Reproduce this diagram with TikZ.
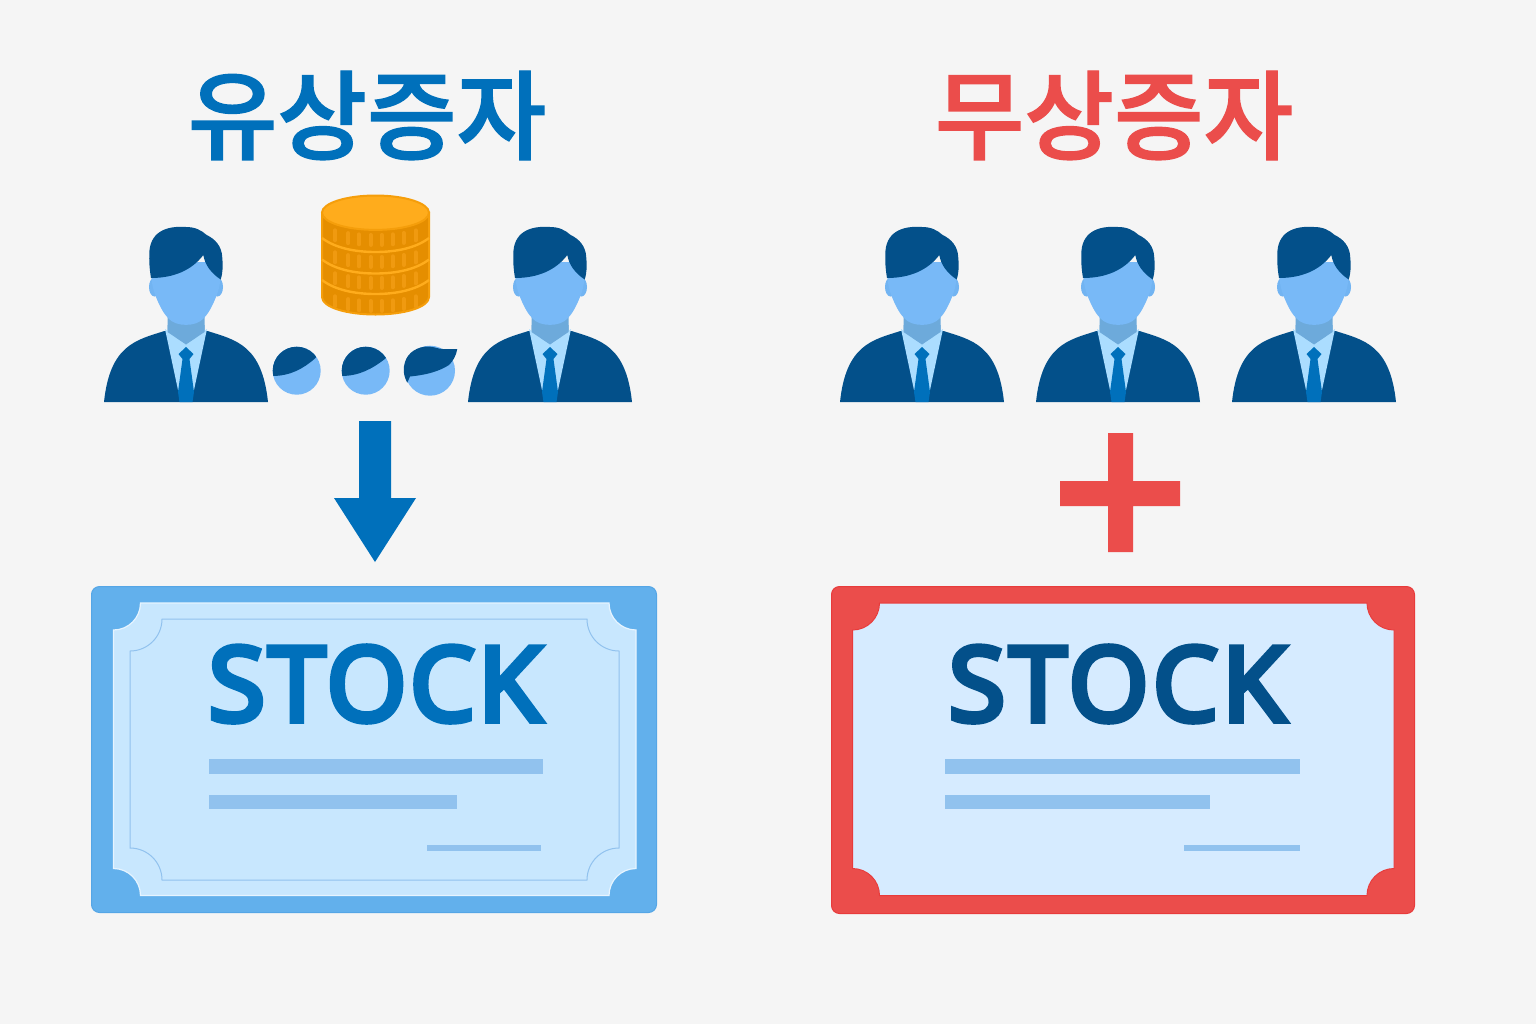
\documentclass[tikz,border=0pt]{standalone}
\usepackage{fontspec}
\newfontfamily\krfont{Noto Sans CJK KR Medium}[FakeBold=1.5]
\newfontfamily\stockfont{Open Sans}[FakeBold=6,LetterSpace=3.4]
\newfontfamily\stockfontR{Open Sans}[FakeBold=6,LetterSpace=4.3]
\definecolor{bg}{HTML}{F5F5F5}
\definecolor{mainblue}{HTML}{0070BB}
\definecolor{navy}{HTML}{03508A}
\definecolor{facec}{HTML}{78B9F7}
\definecolor{earc}{HTML}{72B4F2}
\definecolor{neckc}{HTML}{6DAADB}
\definecolor{shirtc}{HTML}{ABDDFF}
\definecolor{redc}{HTML}{EB4D4B}
\definecolor{redline}{HTML}{E83B3B}
\definecolor{bordblue}{HTML}{62B0EC}
\definecolor{bordline}{HTML}{55A6E6}
\definecolor{paperA}{HTML}{C8E7FE}
\definecolor{paperB}{HTML}{D6EBFF}
\definecolor{barc}{HTML}{91C2EE}
\definecolor{coinside}{HTML}{E58E00}
\definecolor{coinedge}{HTML}{F59E0B}
\definecolor{cointop}{HTML}{FFAC1C}
\definecolor{coinrib}{HTML}{F09A10}
\tikzset{
  titletext/.style={font=\krfont\fontsize{48.7}{49}\selectfont,inner sep=0pt,anchor=center},
  stocktext/.style={font=\stockfont\fontsize{51.3}{55}\selectfont,inner sep=0pt,anchor=center},
  stocktextR/.style={font=\stockfontR\fontsize{51.3}{55}\selectfont,inner sep=0pt,anchor=center},
  barfill/.style={fill=barc,draw=none},
}
% scalloped rectangle path: x1,y1,x2,y2,r
\newcommand{\scallop}[5]{
  ({#1+#5},#2) -- ({#3-#5},#2)
  .. controls ({#3-#5},{#2+0.5523*#5}) and ({#3-0.5523*#5},{#2+#5}) .. (#3,{#2+#5})
  -- (#3,{#4-#5})
  .. controls ({#3-0.5523*#5},{#4-#5}) and ({#3-#5},{#4-0.5523*#5}) .. ({#3-#5},#4)
  -- ({#1+#5},#4)
  .. controls ({#1+#5},{#4-0.5523*#5}) and ({#1+0.5523*#5},{#4-#5}) .. (#1,{#4-#5})
  -- (#1,{#2+#5})
  .. controls ({#1+0.5523*#5},{#2+#5}) and ({#1+#5},{#2+0.5523*#5}) .. ({#1+#5},#2)
  -- cycle
}
\newcommand{\person}[1]{
\begin{scope}[shift={(#1,0)}]
  % ears
  \fill[earc] (-31.5,287) ellipse [x radius=5.5,y radius=9.5];
  \fill[earc] (31.5,287) ellipse [x radius=5.5,y radius=9.5];
  % neck
  \fill[neckc] (-18.5,305) -- (18.5,305) -- (18.5,332) -- (0,345) -- (-18.5,332) -- cycle;
  % body
  \fill[navy] (-21.5,331) .. controls (-50,340) and (-76,345) .. (-82,402) -- (82,402)
     .. controls (76,345) and (50,340) .. (21.5,331) -- cycle;
  % shirt
  \fill[shirtc] (-21,329) -- (0,344) -- (21,329) -- (8,390) -- (-8,390) -- cycle;
  % neck shadow again over the shirt top
  \fill[neckc] (-18.5,325) -- (18.5,325) -- (18.5,332) -- (0,344.5) -- (-18.5,332) -- cycle;
  % tie
  \fill[mainblue] (0,347) -- (7.5,354) -- (3.5,359) -- (8,392) -- (6.5,402) -- (-6.5,402) -- (-8,392) -- (-3.5,359) -- (-7.5,354) -- cycle;
  % face
  \fill[facec] (-34,262) -- (34,262) .. controls (35,275) and (35,285) .. (30,297)
     .. controls (26,307) and (22,314) .. (17.5,318.5)
     .. controls (10,327) and (-10,327) .. (-17.5,318.5)
     .. controls (-22,314) and (-26,307) .. (-30,297)
     .. controls (-35,285) and (-35,275) .. (-34,262) -- cycle;
  % hair
  \fill[navy] (-35,278) .. controls (-12,278) and (6,270) .. (17.3,255)
     .. controls (19,265) and (25,273) .. (34.7,279.5)
     .. controls (37,272) and (37,265) .. (36.3,258)
     .. controls (36,246) and (29,239) .. (20.7,235)
     .. controls (15,230) and (9,227) .. (0,227)
     .. controls (-20,225.5) and (-37,232) .. (-36.7,255)
     .. controls (-37,264) and (-36,272) .. (-35,278) -- cycle;
\end{scope}
}
\begin{document}
\begin{tikzpicture}[x=0.5pt,y=-0.5pt]
\useasboundingbox (0,0) rectangle (1536,1024);
\fill[bg] (0,0) rectangle (1536,1024);

% titles
\node[titletext,text=mainblue] (titleL) at (367,115.5) {유상증자};
\node[titletext,text=redc] (titleR) at (1114,115.5) {무상증자};

% people
\person{186}
\person{550}
\person{922}
\person{1118}
\person{1314}

% coins
\fill[coinside,draw=coinedge,line width=1pt] (322,212.7) -- (322,297)
  .. controls (322,307) and (346,314.5) .. (375.5,314.5)
  .. controls (405,314.5) and (429,307) .. (429,297) -- (429,212.7) -- cycle;
\foreach \yc in {226,248,269,292}{
  \foreach \xx in {335,348.3,359,370.7,381.7,392.7,403.7,415.7}{
    \pgfmathsetmacro{\yy}{\yc+14*sqrt(1-((\xx-375.5)/54)^2)}
    \draw[coinrib,line width=2pt,line cap=round] (\xx,{\yy-5}) -- (\xx,{\yy+5});
  }
}
\foreach \yc in {238,259.5,280}{
  \draw[cointop,line width=1.2pt] (322,\yc) .. controls (335,\yc+10) and (355,\yc+14) .. (375.5,\yc+14)
     .. controls (396,\yc+14) and (416,\yc+10) .. (429,\yc);
}
\fill[cointop,draw=coinedge,line width=1pt] (375.5,212.7) ellipse [x radius=53.5,y radius=17.2];

% small heads
\fill[facec] (296.7,370.7) circle [radius=24];
\begin{scope}
  \clip (296.7,370.7) circle [radius=24];
  \fill[navy] (272,376) .. controls (290,376) and (303,369) .. (315.5,358) -- (325,340) -- (268,340) -- cycle;
\end{scope}
\fill[facec] (365.7,370.7) circle [radius=24];
\begin{scope}
  \clip (365.7,370.7) circle [radius=24];
  \fill[navy] (341,376) .. controls (359,376) and (372,369) .. (385.5,358.5) -- (394,340) -- (337,340) -- cycle;
\end{scope}
\fill[facec] (430,370.7) circle [radius=25];
\fill[navy] (407.3,382.7) .. controls (403,375) and (403,368) .. (405,362)
  .. controls (408,352) and (418,346.5) .. (428,346.5)
  .. controls (434,346.5) and (438,349) .. (443,349) -- (457.3,349)
  .. controls (456,356) and (453,361) .. (449,365)
  .. controls (438,372) and (425,375) .. (410,376.5) -- cycle;

% arrow
\fill[mainblue] (359,421) -- (391,421) -- (391,498) -- (416,498) -- (375,562) -- (334,498) -- (359,498) -- cycle;

% plus
\fill[redc] (1108,433) -- (1133,433) -- (1133,481) -- (1180,481) -- (1180,506) -- (1133,506) -- (1133,552) -- (1108,552) -- (1108,506) -- (1060,506) -- (1060,481) -- (1108,481) -- cycle;

% left certificate
\fill[bordblue,draw=bordline,line width=0.5pt,rounded corners=4pt] (91.5,586.5) rectangle (656.5,912.5);
\fill[paperA,draw=white!55!paperA,line width=0.6pt] \scallop{113.5}{603}{636}{895.5}{27};
\draw[barc,line width=0.5pt] \scallop{130}{619}{619}{880}{32};
\node[stocktext,text=mainblue] (stockL) at (375,684) {STOCK};
\path[barfill] (209,759) rectangle (543,774);
\path[barfill] (209,795) rectangle (457,809);
\path[barfill] (427,845) rectangle (541,851);

% right certificate
\fill[redc,draw=redline,line width=0.5pt,rounded corners=4pt] (831.5,586.5) rectangle (1414.5,913.5);
\fill[paperB,draw=redline,line width=0.5pt] \scallop{852.5}{603}{1394}{895.5}{27};
\node[stocktextR,text=navy] (stockR) at (1117,684) {STOCK};
\path[barfill] (945,759) rectangle (1300,774);
\path[barfill] (945,795) rectangle (1210,809);
\path[barfill] (1184,845) rectangle (1300,851);
\end{tikzpicture}
\end{document}
